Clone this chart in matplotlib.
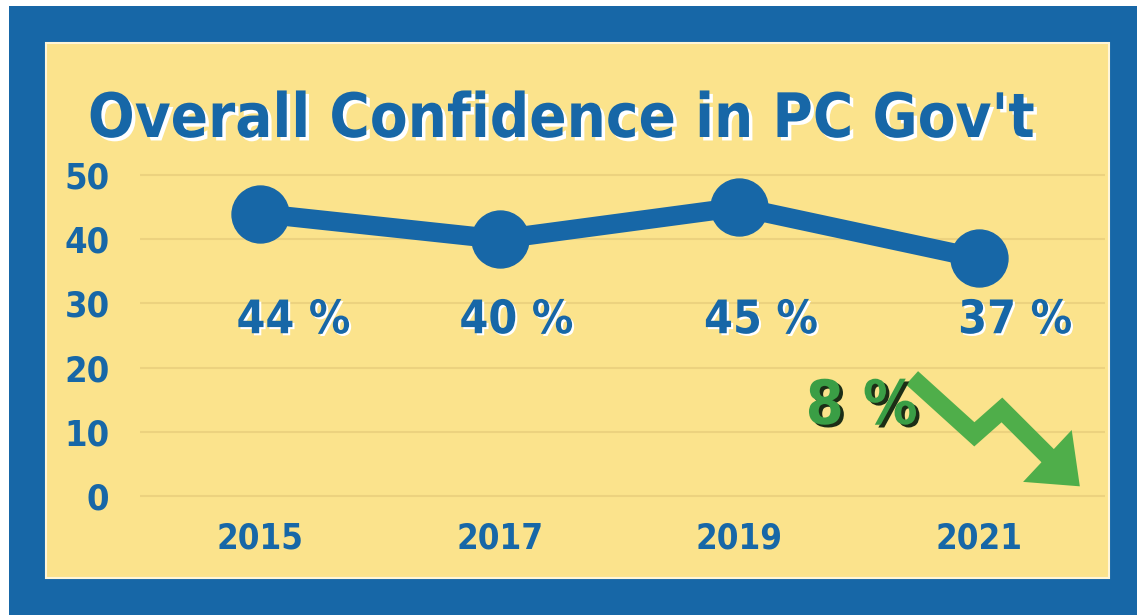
import matplotlib.pyplot as plt
import matplotlib.patheffects as pe
from matplotlib.patches import Rectangle
from matplotlib import font_manager as fm

# data
years = [2015, 2017, 2019, 2021]
confidence = [44, 40, 45, 37]
value_labels = ['44 %', '40 %', '45 %', '37 %']
y_ticks = [0, 10, 20, 30, 40, 50]
title = "Overall Confidence in PC Gov't"
drop_label = '8 %'

# decorative zig-zag arrow (data coords)
arrow_x = [2020.44, 2020.96, 2021.19, 2021.64]
arrow_y = [18.4, 9.6, 13.4, 5.0]
arrow_tip = (2021.84, 1.5)

BLUE = '#1767a7'
YELLOW = '#fbe38c'
GRID = '#ecd27f'
GREEN = '#4fae4a'

# pick a narrow bold face if there is one
FONT = ['DejaVu Sans']
STRETCH = 'normal'
names = {f.name for f in fm.fontManager.ttflist}
for fam in ['Liberation Sans Narrow', 'DejaVu Sans']:
    if fam not in names:
        continue
    path = fm.findfont(fm.FontProperties(family=fam, weight='bold', stretch='condensed'),
                       fallback_to_default=False)
    if 'Narrow' in path or 'Condensed' in path:
        FONT = [fam, 'DejaVu Sans']
        STRETCH = 'condensed'
        break

W, H = 1137, 615
fig = plt.figure(figsize=(W / 100, H / 100), dpi=100)
fig.patch.set_facecolor('white')
renderer = fig.canvas.get_renderer()


def px_rect(x0, y0, x1, y1, **kw):
    return Rectangle((x0 / W, 1 - y1 / H), (x1 - x0) / W, (y1 - y0) / H,
                     transform=fig.transFigure, **kw)


def fit_width(t, target_px, max_size):
    # shrink a text so it is about target_px wide
    w = t.get_window_extent(renderer).width
    t.set_fontsize(min(max_size, t.get_fontsize() * target_px / w))


fig.patches.append(px_rect(9, 6, 1137, 615, facecolor=BLUE, edgecolor='none', zorder=0))
fig.patches.append(px_rect(46, 43, 1109, 578, facecolor=YELLOW, edgecolor='#fff6d8',
                           linewidth=1.5, zorder=1))

ax = fig.add_axes([140 / W, 1 - 512 / H, (1105 - 140) / W, (512 - 168.6) / H])
ax.set_facecolor('none')
ax.set_zorder(2)

ax.plot(years, confidence, color=BLUE, lw=14, marker='o', markersize=41,
        solid_capstyle='round', zorder=3)

white_shadow = [pe.withSimplePatchShadow(offset=(1.5, -1.5), shadow_rgbFace='white', alpha=1)]
for x, lab, dx in zip(years, value_labels, [0.28, 0.14, 0.18, 0.30]):
    t = ax.text(x + dx, 27.3, lab, ha='center', va='center', fontsize=42, fontweight='bold',
                family=FONT, fontstretch=STRETCH, color=BLUE, path_effects=white_shadow, zorder=4)
    fit_width(t, 114, 42)

# green arrow + drop label
ax.plot(arrow_x, arrow_y, color=GREEN, lw=13, solid_joinstyle='miter',
        solid_capstyle='butt', zorder=3)
ax.annotate('', xy=arrow_tip, xytext=(arrow_x[-1], arrow_y[-1]),
            arrowprops=dict(arrowstyle='-|>,head_length=1.0,head_width=0.8', lw=0,
                            mutation_scale=32, color=GREEN, shrinkA=0, shrinkB=0), zorder=3)
t = ax.text(2020.02, 13.8, drop_label, ha='center', va='center', fontsize=55, fontweight='bold',
            family=FONT, fontstretch=STRETCH, color='#3a9e45',
            path_effects=[pe.withSimplePatchShadow(offset=(2.5, -2), shadow_rgbFace='#1c2d16', alpha=1)],
            zorder=4)
fit_width(t, 112, 55)

ax.set_xlim(2014, 2022.05)
ax.set_ylim(-2.5, 51)
ax.set_yticks(y_ticks)
ax.set_xticks(years)
ax.grid(axis='y', color=GRID, lw=1.5)
ax.set_axisbelow(True)
for s in ax.spines.values():
    s.set_visible(False)
ax.tick_params(length=0)
ax.tick_params(axis='y', pad=22)
ax.tick_params(axis='x', pad=7)
for lab in ax.get_xticklabels():
    lab.set_fontsize(25)
for lab in ax.get_yticklabels():
    lab.set_fontsize(26)
for lab in ax.get_xticklabels() + ax.get_yticklabels():
    lab.set_fontfamily(FONT)
    lab.set_fontstretch(STRETCH)
    lab.set_fontweight('bold')
    lab.set_color(BLUE)

t = fig.text(561 / W, 1 - 137 / H, title, ha='center', va='baseline', fontsize=80,
             fontweight='bold', family=FONT, fontstretch=STRETCH, color=BLUE,
             path_effects=[pe.withSimplePatchShadow(offset=(2.5, -2.5), shadow_rgbFace='white', alpha=1)],
             zorder=5)
fit_width(t, 947, 80)

fig.savefig('out.png', dpi=100)
